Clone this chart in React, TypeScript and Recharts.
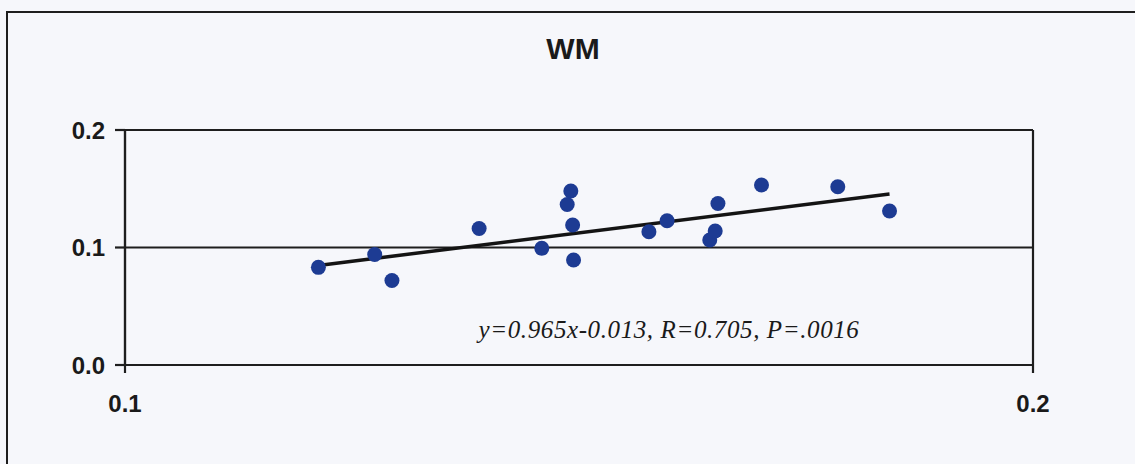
import React from "react";
import {
  ScatterChart,
  Scatter,
  XAxis,
  YAxis,
  CartesianGrid,
} from "recharts";

// Measured values (x, y) for each subject
const xValues = [
  0.1013, 0.1075, 0.1094, 0.119, 0.1259, 0.1287, 0.1291, 0.1293, 0.1294,
  0.1377, 0.1397, 0.1444, 0.145, 0.1453, 0.1501, 0.1585, 0.1642,
];
const yValues = [
  0.0831, 0.094, 0.0719, 0.1162, 0.0993, 0.1366, 0.1481, 0.1191, 0.0894,
  0.1134, 0.1228, 0.1064, 0.114, 0.1374, 0.1532, 0.1517, 0.1311,
];

// Linear fit: y = slope * x + intercept
const slope = 0.965;
const intercept = -0.013;
const fitRange = [0.1013, 0.1642];

const xTicks = [0.08, 0.18];
const yTicks = [0, 0.1, 0.2];

const title = "WM";
const equation = "y=0.965x-0.013, R=0.705, P=.0016";

const points = xValues.map((x, i) => ({ x, y: yValues[i] }));
const fitLine = fitRange.map((x) => ({ x, y: slope * x + intercept }));

const W = 1135;
const H = 464;
const ink = "#1e1e1e";
const dotColor = "#1d3b93";
const tickFont = {
  fontFamily: "'Liberation Sans', Arial, sans-serif",
  fontWeight: 700,
  fontSize: 24,
  fill: "#1a1a1a",
};

const Dot = (props: any) => {
  const { cx, cy } = props;
  if (cx == null || cy == null) return null;
  return <circle cx={cx} cy={cy} r={7.5} fill={dotColor} />;
};

export default function App() {
  return (
    <div
      style={{
        position: "absolute",
        left: 0,
        top: 0,
        width: W,
        height: H,
        background: "#f6f7fb",
        overflow: "hidden",
      }}
    >
      <div
        style={{
          position: "absolute",
          left: 6,
          top: 11,
          width: W + 40,
          height: H + 40,
          border: `2px solid ${ink}`,
          boxSizing: "border-box",
        }}
      />
      <ScatterChart
        width={W}
        height={H}
        margin={{ top: 130, right: 102, bottom: 39, left: 25 }}
        style={{ position: "absolute", left: 0, top: 0 }}
      >
        <CartesianGrid
          stroke={ink}
          strokeWidth={2.2}
          fill="none"
          horizontal={{ stroke: ink, strokeWidth: 2.2 }}
          vertical={{ stroke: ink, strokeWidth: 2.2 }}
        />
        <XAxis
          type="number"
          dataKey="x"
          domain={[0.08, 0.18]}
          ticks={xTicks}
          tickFormatter={(v: number) => v.toFixed(1)}
          height={60}
          tickSize={8}
          tickMargin={22}
          axisLine={{ stroke: ink, strokeWidth: 2.2 }}
          tickLine={{ stroke: ink, strokeWidth: 2.2 }}
          tick={tickFont}
          allowDataOverflow
        />
        <YAxis
          type="number"
          dataKey="y"
          domain={[0, 0.2]}
          ticks={yTicks}
          tickFormatter={(v: number) => v.toFixed(1)}
          width={100}
          tickSize={10}
          tickMargin={10}
          axisLine={{ stroke: ink, strokeWidth: 2.2 }}
          tickLine={{ stroke: ink, strokeWidth: 2.2 }}
          tick={tickFont}
          allowDataOverflow
        />
        <Scatter
          data={fitLine}
          line={{ stroke: "#141414", strokeWidth: 3.5 }}
          shape={() => null}
          isAnimationActive={false}
        />
        <Scatter data={points} shape={<Dot />} isAnimationActive={false} />
      </ScatterChart>
      <div
        style={{
          position: "absolute",
          left: 0,
          width: 1146,
          top: 31,
          textAlign: "center",
          fontFamily: "'Liberation Sans', Arial, sans-serif",
          fontWeight: 700,
          fontSize: 30,
          lineHeight: "36px",
          color: "#1a1a1a",
        }}
      >
        {title}
      </div>
      <div
        style={{
          position: "absolute",
          left: 469,
          width: 400,
          top: 316,
          textAlign: "center",
          fontFamily: "'Liberation Serif', 'Times New Roman', serif",
          fontStyle: "italic",
          fontSize: 25,
          letterSpacing: 0.6,
          lineHeight: "28px",
          color: "#1a1a1a",
          whiteSpace: "nowrap",
        }}
      >
        {equation}
      </div>
    </div>
  );
}
